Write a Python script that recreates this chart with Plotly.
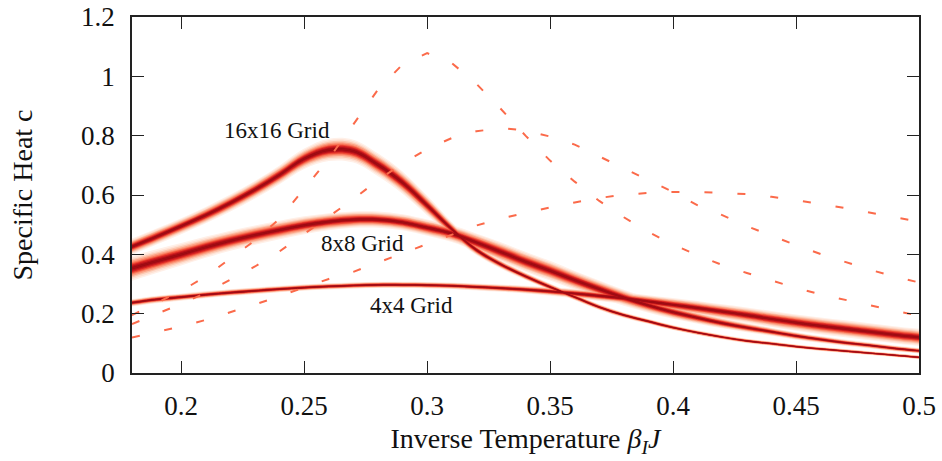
import numpy as np
import plotly.graph_objects as go

# Inverse temperature grid (beta_I * J)
beta = [0.18, 0.19, 0.20, 0.21, 0.22, 0.23, 0.24, 0.25, 0.26, 0.27, 0.28,
        0.29, 0.30, 0.31, 0.32, 0.33, 0.34, 0.35, 0.36, 0.37, 0.38, 0.39,
        0.40, 0.41, 0.42, 0.43, 0.44, 0.45, 0.46, 0.47, 0.48, 0.49, 0.50]

# Sampled specific heat (central estimate) for each lattice
c_16 = [0.426, 0.460, 0.495, 0.532, 0.573, 0.618, 0.668, 0.722, 0.752, 0.748,
        0.702, 0.642, 0.565, 0.485, 0.415, 0.366, 0.326, 0.290, 0.256, 0.222,
        0.195, 0.174, 0.153, 0.136, 0.121, 0.108, 0.099, 0.089, 0.081, 0.074,
        0.067, 0.060, 0.053]
c_8 = [0.353, 0.377, 0.400, 0.424, 0.446, 0.465, 0.482, 0.498, 0.510, 0.517,
       0.517, 0.508, 0.490, 0.470, 0.440, 0.408, 0.375, 0.345, 0.313, 0.283,
       0.254, 0.228, 0.205, 0.186, 0.168, 0.153, 0.139, 0.125, 0.113, 0.102,
       0.093, 0.083, 0.075]
c_4 = [0.237, 0.248, 0.256, 0.264, 0.271, 0.277, 0.283, 0.288, 0.292, 0.295,
       0.297, 0.297, 0.296, 0.294, 0.290, 0.286, 0.281, 0.275, 0.268, 0.260,
       0.252, 0.241, 0.230, 0.219, 0.207, 0.195, 0.182, 0.170, 0.159, 0.149,
       0.139, 0.129, 0.120]

# Spread (standard deviation) of the sampled estimate
s_16 = [0.0090, 0.0090, 0.0090, 0.0092, 0.0095, 0.0098, 0.0105, 0.0115, 0.0125, 0.0128,
        0.0128, 0.0125, 0.0110, 0.0080, 0.0058, 0.0048, 0.0043, 0.0040, 0.0036, 0.0033,
        0.0031, 0.0029, 0.0028, 0.0027, 0.0026, 0.0025, 0.0024, 0.0023, 0.0022, 0.0022,
        0.0021, 0.0021, 0.0021]
s_8 = [0.0140, 0.0133, 0.0126, 0.0119, 0.0112, 0.0108, 0.0104, 0.0100, 0.0096, 0.0092,
       0.0090, 0.0090, 0.0092, 0.0096, 0.0102, 0.0110, 0.0112, 0.0110, 0.0104, 0.0097,
       0.0090, 0.0082, 0.0074, 0.0066, 0.0058, 0.0051, 0.0046, 0.0042, 0.0039, 0.0036,
       0.0034, 0.0032, 0.0031]
s_4 = [0.0042, 0.0042, 0.0041, 0.0040, 0.0039, 0.0038, 0.0037, 0.0036, 0.0036, 0.0036,
       0.0036, 0.0036, 0.0036, 0.0037, 0.0039, 0.0041, 0.0044, 0.0048, 0.0053, 0.0059,
       0.0065, 0.0071, 0.0076, 0.0080, 0.0083, 0.0087, 0.0090, 0.0092, 0.0094, 0.0095,
       0.0096, 0.0096, 0.0096]

# Exact finite-lattice reference curves (dashed)
exact_a = [0.195, 0.236, 0.277, 0.325, 0.385, 0.447, 0.520, 0.620, 0.722, 0.838,
           0.955, 1.040, 1.078, 1.045, 0.975, 0.890, 0.800, 0.716, 0.645, 0.580,
           0.525, 0.475, 0.433, 0.397, 0.364, 0.337, 0.311, 0.287, 0.265, 0.246,
           0.228, 0.210, 0.193]
exact_b = [0.165, 0.199, 0.233, 0.270, 0.315, 0.359, 0.410, 0.468, 0.528, 0.586,
           0.650, 0.706, 0.755, 0.792, 0.815, 0.825, 0.818, 0.797, 0.770, 0.730,
           0.690, 0.652, 0.610, 0.565, 0.532, 0.495, 0.462, 0.431, 0.401, 0.374,
           0.348, 0.326, 0.305]
exact_c = [0.120, 0.138, 0.157, 0.179, 0.204, 0.231, 0.259, 0.288, 0.317, 0.341,
           0.372, 0.404, 0.436, 0.467, 0.497, 0.521, 0.540, 0.558, 0.575, 0.590,
           0.601, 0.607, 0.610, 0.610, 0.607, 0.603, 0.594, 0.583, 0.570, 0.556,
           0.541, 0.526, 0.510]

labels = ["16x16 Grid", "8x8 Grid", "4x4 Grid"]
label_x = [0.2388, 0.2738, 0.2937]
label_y = [0.816, 0.435, 0.226]

x_ticks = [0.2, 0.25, 0.3, 0.35, 0.4, 0.45, 0.5]
x_tick_text = ["0.2", "0.25", "0.3", "0.35", "0.4", "0.45", "0.5"]
y_ticks = [0, 0.2, 0.4, 0.6, 0.8, 1.0, 1.2]
y_tick_text = ["0", "0.2", "0.4", "0.6", "0.8", "1", "1.2"]

FONT = "Liberation Serif"

# Density shading: nested bands (in units of the spread), lightest first
band_levels = [
    (3.0, "#fff0e8"),
    (2.6, "#fee0d2"),
    (2.2, "#fcc5ad"),
    (1.85, "#fca083"),
    (1.5, "#f97a5c"),
    (1.2, "#ee4a35"),
    (0.9, "#d42020"),
    (0.6, "#b31018"),
    (0.3, "#990a12"),
]

curves = [(c_16, s_16), (c_8, s_8), (c_4, s_4)]

fig = go.Figure()

for k, color in band_levels:
    for c, s in curves:
        c_arr = np.array(c)
        s_arr = np.array(s)
        fig.add_trace(go.Scatter(
            x=beta, y=c_arr - k * s_arr, mode="lines",
            line=dict(width=0, shape="spline", smoothing=1.0),
            hoverinfo="skip", showlegend=False))
        fig.add_trace(go.Scatter(
            x=beta, y=c_arr + k * s_arr, mode="lines",
            line=dict(width=0, shape="spline", smoothing=1.0),
            fill="tonexty", fillcolor=color,
            hoverinfo="skip", showlegend=False))

# Central line of each estimate
for c, _ in curves:
    fig.add_trace(go.Scatter(
        x=beta, y=c, mode="lines",
        line=dict(width=1.2, color="#a00c14", shape="spline", smoothing=1.0),
        hoverinfo="skip", showlegend=False))

# Exact curves
for ex in (exact_a, exact_b, exact_c):
    fig.add_trace(go.Scatter(
        x=beta, y=ex, mode="lines",
        line=dict(width=2, color="#fb6a4a", dash="8px,25px"),
        hoverinfo="skip", showlegend=False))

for text, lx, ly in zip(labels, label_x, label_y):
    fig.add_annotation(x=lx, y=ly, text=text, showarrow=False,
                       font=dict(family=FONT, size=23, color="#111111"))

axis_common = dict(
    showgrid=False, zeroline=False, automargin=False,
    showline=True, linecolor="#222222", linewidth=1.5, mirror="allticks",
    ticks="inside", ticklen=12, tickwidth=1, tickcolor="#222222",
    tickfont=dict(family=FONT, size=27, color="#111111"),
)

fig.update_xaxes(range=[0.18, 0.5], tickvals=x_ticks, ticktext=x_tick_text,
                 ticklabelstandoff=8,
                 title=dict(text="Inverse Temperature <i>β</i><sub><i>I</i></sub><i>J</i>",
                            font=dict(family=FONT, size=28, color="#111111"),
                            standoff=8),
                 **axis_common)
fig.update_yaxes(range=[0, 1.2], tickvals=y_ticks, ticktext=y_tick_text,
                 ticklabelstandoff=10,
                 title=dict(text="Specific Heat c",
                            font=dict(family=FONT, size=28, color="#111111"),
                            standoff=40),
                 **axis_common)

fig.update_layout(
    width=942, height=461,
    margin=dict(l=132, r=23, t=17, b=88),
    paper_bgcolor="white", plot_bgcolor="white",
    showlegend=False,
)

fig.write_html("out.html")
